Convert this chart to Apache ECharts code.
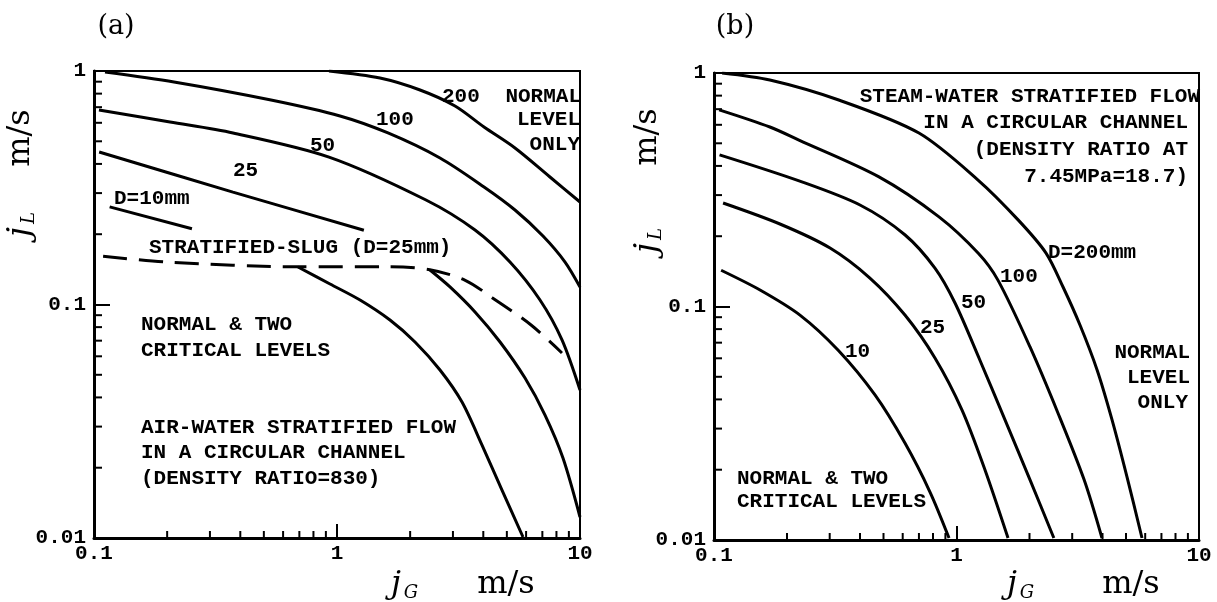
<!DOCTYPE html>
<html>
<head>
<meta charset="utf-8">
<style>
  html, body { margin: 0; background: #fff; }
  #chart { width: 1217px; height: 602px; }
</style>
<script src="https://cdn.jsdelivr.net/npm/echarts@6/dist/echarts.min.js"></script>
</head>
<body>
<div id="chart"></div>
<script>
// values, [jG, jL] in m/s

// (a) air-water
const aD200 = [[0.927, 1.0], [1.503, 0.933], [2.196, 0.829], [3.06, 0.708], [4.027, 0.5755], [5.401, 0.468], [7.522, 0.3516], [10, 0.2748]];
const aD100 = [[0.111, 0.99], [0.2134, 0.8973], [0.535, 0.751], [1.029, 0.6417], [1.621, 0.5427], [2.654, 0.424], [4.027, 0.3186], [5.401, 0.254], [7.042, 0.1965], [8.679, 0.152], [10, 0.1188]];
const aD50 = [[0.1048, 0.681], [0.2055, 0.6046], [0.3733, 0.5427], [0.927, 0.428], [2.324, 0.2803], [3.698, 0.2085], [5.151, 0.152], [6.846, 0.1045], [8.431, 0.0705], [10, 0.043]];
const aD25 = [[0.105, 0.45], [0.373, 0.303], [1.29, 0.208]];
const aD10 = [[0.116, 0.262], [0.253, 0.211]];
const aSlug = [[0.109, 0.161], [0.2, 0.152], [0.692, 0.145], [1.62, 0.145], [2.41, 0.141], [3.37, 0.127], [4.35, 0.107], [6.29, 0.0817], [8.43, 0.062]];
const aLowLeft = [[0.691, 0.1447], [0.936, 0.1224], [1.244, 0.1045], [1.652, 0.0858], [2.094, 0.0691], [2.654, 0.0524], [3.269, 0.0382], [3.952, 0.025], [4.775, 0.01605], [5.826, 0.0101]];
const aLowRight = [[2.414, 0.1405], [2.917, 0.1189], [3.698, 0.0929], [4.688, 0.0691], [5.94, 0.0484], [7.178, 0.0336], [8.51, 0.022], [10, 0.0123]];

// (b) steam-water
const bD200 = [[0.108, 1.0], [0.17, 0.933], [0.327, 0.766], [0.70, 0.553], [1.227, 0.348], [1.795, 0.235], [2.34, 0.1694], [2.75, 0.1212], [3.23, 0.0833], [3.80, 0.0535], [4.38, 0.0327], [5.05, 0.0186], [5.82, 0.0102]];
const bD100 = [[0.105, 0.695], [0.17, 0.587], [0.224, 0.516], [0.479, 0.359], [0.847, 0.242], [1.23, 0.169], [1.48, 0.13], [2.01, 0.0671], [2.62, 0.035], [3.36, 0.0181], [3.98, 0.0102]];
const bD50 = [[0.1054, 0.446], [0.2244, 0.345], [0.40, 0.272], [0.614, 0.2024], [0.815, 0.146], [0.986, 0.1035], [1.238, 0.0602], [1.585, 0.0327], [2.01, 0.0181], [2.52, 0.0102]];
const bD25 = [[0.109, 0.2775], [0.187, 0.2256], [0.301, 0.178], [0.4395, 0.1324], [0.613, 0.0919], [0.815, 0.0602], [1.054, 0.036], [1.311, 0.01995], [1.631, 0.0102]];
const bD10 = [[0.107, 0.143], [0.1548, 0.1177], [0.2262, 0.0919], [0.3245, 0.0651], [0.4612, 0.0418], [0.613, 0.026], [0.7775, 0.01605], [0.9314, 0.0102]];

// axis ranges and minor ticks
const xRange = [0.1, 10];
const yRange = [0.01, 1];
const xMinorTicks = [0.2, 0.3, 0.4, 0.5, 0.6, 0.7, 0.8, 0.9, 2, 3, 4, 5, 6, 7, 8, 9];
const yMinorTicks = [0.02, 0.03, 0.04, 0.05, 0.06, 0.07, 0.08, 0.09, 0.2, 0.3, 0.4, 0.5, 0.6, 0.7, 0.8, 0.9];

const NOTE_FONT = 'bold 21px "Liberation Mono"';
const TICK_FONT = { fontFamily: 'Liberation Mono', fontWeight: 'bold', fontSize: 21, color: '#000' };

const chart = echarts.init(document.getElementById('chart'));

function curve(data, gi, dashed) {
  return {
    type: 'line',
    xAxisIndex: gi,
    yAxisIndex: gi,
    data: data,
    symbol: 'none',
    smooth: 0.3,
    silent: true,
    lineStyle: { color: '#000', width: 3, type: dashed ? [24, 12] : 'solid' },
  };
}

// short inward ticks at 2..9 of each decade
function minorTicks(gi, vertical) {
  const data = vertical
    ? yMinorTicks.map((v) => [xRange[0], v])
    : xMinorTicks.map((v) => [v, yRange[0]]);
  return {
    type: 'custom',
    xAxisIndex: gi,
    yAxisIndex: gi,
    silent: true,
    clip: false,
    data: data,
    renderItem: function (params, api) {
      const p = api.coord([api.value(0), api.value(1)]);
      return {
        type: 'line',
        shape: vertical
          ? { x1: p[0], y1: p[1], x2: p[0] + 8, y2: p[1] }
          : { x1: p[0], y1: p[1], x2: p[0], y2: p[1] - 7 },
        style: { stroke: '#000', lineWidth: 2 },
      };
    },
  };
}

function note(text, x, y, align) {
  align = align || 'left';
  return {
    type: 'text', x: x, y: y, z: 100,
    style: {
      text: text, font: NOTE_FONT, fill: '#000',
      textAlign: align, textVerticalAlign: 'middle', align: align, verticalAlign: 'middle',
    },
  };
}

function serif(text, x, y, size, italic, rotation) {
  return {
    type: 'text', x: x, y: y, z: 100, rotation: rotation || 0,
    style: {
      text: text, fill: '#000',
      font: (italic ? 'italic ' : '') + size + 'px "DejaVu Serif"',
      textAlign: 'center', textVerticalAlign: 'middle', align: 'center', verticalAlign: 'middle',
    },
  };
}

function xAxisFor(gi) {
  return {
    type: 'log', logBase: 10, gridIndex: gi, min: xRange[0], max: xRange[1],
    axisLine: { show: true, lineStyle: { color: '#000', width: 3 } },
    axisTick: { show: true, inside: true, length: 14, lineStyle: { color: '#000', width: 2 } },
    axisLabel: Object.assign({ margin: 5 }, TICK_FONT),
    splitLine: { show: false },
  };
}

function yAxisFor(gi) {
  return {
    type: 'log', logBase: 10, gridIndex: gi, min: yRange[0], max: yRange[1],
    axisLine: { show: true, lineStyle: { color: '#000', width: 3 } },
    axisTick: { show: true, inside: true, length: 16, lineStyle: { color: '#000', width: 2 } },
    axisLabel: Object.assign({ margin: 8 }, TICK_FONT),
    splitLine: { show: false },
  };
}

const option = {
  animation: false,
  backgroundColor: '#fff',
  grid: [
    { left: 94, top: 71, width: 486, height: 467, show: true, borderColor: '#000', borderWidth: 2 },
    { left: 714, top: 73, width: 485, height: 467, show: true, borderColor: '#000', borderWidth: 2 },
  ],
  xAxis: [xAxisFor(0), xAxisFor(1)],
  yAxis: [yAxisFor(0), yAxisFor(1)],
  series: [
    curve(aD200, 0), curve(aD100, 0), curve(aD50, 0), curve(aD25, 0), curve(aD10, 0),
    curve(aSlug, 0, true), curve(aLowLeft, 0), curve(aLowRight, 0),
    curve(bD200, 1), curve(bD100, 1), curve(bD50, 1), curve(bD25, 1), curve(bD10, 1),
    minorTicks(0, true), minorTicks(0, false), minorTicks(1, true), minorTicks(1, false),
  ],
  graphic: [
    // panel titles
    serif('(a)', 116, 27, 27),
    serif('(b)', 735, 27, 27),
    // axis titles
    serif('j', 396, 585, 32, true), serif('G', 411, 593, 18, true), serif('m/s', 506, 585, 32),
    serif('j', 1012, 585, 32, true), serif('G', 1027, 593, 18, true), serif('m/s', 1131, 585, 32),
    serif('m/s', 21, 138, 32, false, Math.PI / 2), serif('j', 21, 232, 32, true, Math.PI / 2), serif('L', 29, 218, 18, true, Math.PI / 2),
    serif('m/s', 648, 137, 32, false, Math.PI / 2), serif('j', 648, 248, 32, true, Math.PI / 2), serif('L', 656, 234, 18, true, Math.PI / 2),
    // (a) notes
    note('200', 442, 97), note('100', 376, 120), note('50', 310, 146), note('25', 233, 171),
    note('D=10mm', 114, 199),
    note('NORMAL', 581, 97, 'right'), note('LEVEL', 580, 120, 'right'), note('ONLY', 580, 145, 'right'),
    note('STRATIFIED-SLUG (D=25mm)', 149, 248),
    note('NORMAL & TWO', 141, 325), note('CRITICAL LEVELS', 141, 351),
    note('AIR-WATER STRATIFIED FLOW', 141, 428), note('IN A CIRCULAR CHANNEL', 141, 453),
    note('(DENSITY RATIO=830)', 141, 479),
    // (b) notes
    note('STEAM-WATER STRATIFIED FLOW', 1200, 97, 'right'), note('IN A CIRCULAR CHANNEL', 1188, 123, 'right'),
    note('(DENSITY RATIO AT', 1188, 150, 'right'), note('7.45MPa=18.7)', 1188, 177, 'right'),
    note('D=200mm', 1048, 253), note('100', 1000, 277), note('50', 961, 303), note('25', 920, 328), note('10', 845, 352),
    note('NORMAL', 1190, 353, 'right'), note('LEVEL', 1190, 378, 'right'), note('ONLY', 1188, 403, 'right'),
    note('NORMAL & TWO', 737, 479), note('CRITICAL LEVELS', 737, 502),
  ],
};

chart.setOption(option);
</script>
</body>
</html>
